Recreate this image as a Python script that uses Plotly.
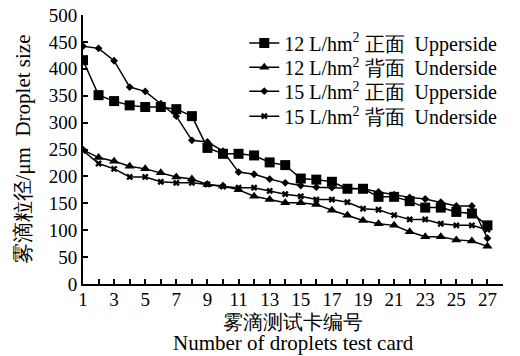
import plotly.graph_objects as go

cards = list(range(1, 28))

up12 = [416, 351, 340, 332, 329, 329, 325, 312, 253, 242, 242, 239, 226, 221, 196, 194, 190, 177,
        177, 162, 162, 154, 142, 142, 134, 131, 109]
under12 = [249, 235, 228, 219, 214, 207, 199, 195, 185, 182, 175, 163, 157, 151, 151, 148, 137, 128,
           118, 112, 109, 97, 88, 88, 82, 80, 70]
up15 = [442, 438, 415, 366, 358, 335, 312, 267, 264, 247, 208, 204, 195, 188, 183, 180, 179, 179,
        177, 171, 166, 161, 158, 152, 145, 145, 85]
under15 = [248, 224, 214, 199, 199, 190, 188, 188, 185, 181, 179, 179, 173, 167, 163, 157, 157, 152,
           140, 138, 128, 120, 120, 112, 109, 109, 101]

names = ["12 L/hm<sup>2</sup> 正面  Upperside", "12 L/hm<sup>2</sup> 背面  Underside",
         "15 L/hm<sup>2</sup> 正面  Upperside", "15 L/hm<sup>2</sup> 背面  Underside"]

x_title_cn = "雾滴测试卡编号"
x_title_en = "Number of droplets test card"
y_title = "雾滴粒径/μm  Droplet size"

xtickvals = list(range(1, 29))
xticktext = [str(v) if v % 2 == 1 else "" for v in xtickvals]
ytickvals = [0, 50, 100, 150, 200, 250, 300, 350, 400, 450, 500]

FONT = "Liberation Serif"

fig = go.Figure()
series = [(up12, "square", 10), (under12, "triangle-up", 9), (up15, "diamond", 6), (under15, "x", 6)]
legend_ids = ["legend", "legend2", "legend3", "legend4"]
for (vals, sym, sz), nm, lg in zip(series, names, legend_ids):
    fig.add_trace(go.Scatter(
        x=cards, y=vals, mode="lines+markers", name=nm, legend=lg,
        line=dict(color="black", width=1.5),
        marker=dict(symbol=sym, size=sz, color="black", line=dict(color="black", width=0)),
    ))

legend_rows = [0.896, 0.806, 0.717, 0.624]
leg_common = dict(x=0.384, xanchor="left", yanchor="middle", bgcolor="rgba(0,0,0,0)",
                  font=dict(family=FONT, size=20), itemwidth=30)

fig.update_layout(
    width=520, height=356,
    margin=dict(l=75, r=25, t=7, b=80, autoexpand=False),
    paper_bgcolor="white", plot_bgcolor="white",
    font=dict(family=FONT, size=19, color="black"),
    showlegend=True,
    legend=dict(y=legend_rows[0], **leg_common),
    legend2=dict(y=legend_rows[1], **leg_common),
    legend3=dict(y=legend_rows[2], **leg_common),
    legend4=dict(y=legend_rows[3], **leg_common),
    annotations=[
        dict(text=x_title_cn, x=0.5, y=-0.14, xref="paper", yref="paper",
             xanchor="center", yanchor="middle", showarrow=False,
             font=dict(family=FONT, size=20)),
        dict(text=x_title_en, x=0.5, y=-0.221, xref="paper", yref="paper",
             xanchor="center", yanchor="middle", showarrow=False,
             font=dict(family=FONT, size=21)),
    ],
)
fig.update_xaxes(
    range=[1, 28], tickmode="array", tickvals=xtickvals, ticktext=xticktext,
    ticks="inside", ticklen=5, tickwidth=1.5, tickcolor="black", automargin=False,
    ticklabeloverflow="allow", ticklabelstandoff=-3,
    showline=True, linecolor="black", linewidth=2, showgrid=False, zeroline=False,
    tickfont=dict(family=FONT, size=19),
)
fig.update_yaxes(
    range=[0, 500], tickmode="array", tickvals=ytickvals,
    ticks="inside", ticklen=5, tickwidth=1.5, tickcolor="black", automargin=False,
    ticklabeloverflow="allow",
    showline=True, linecolor="black", linewidth=2, showgrid=False, zeroline=False,
    tickfont=dict(family=FONT, size=19),
    title=dict(text=y_title, font=dict(family=FONT, size=21), standoff=12),
)

fig.write_html("out.html")
